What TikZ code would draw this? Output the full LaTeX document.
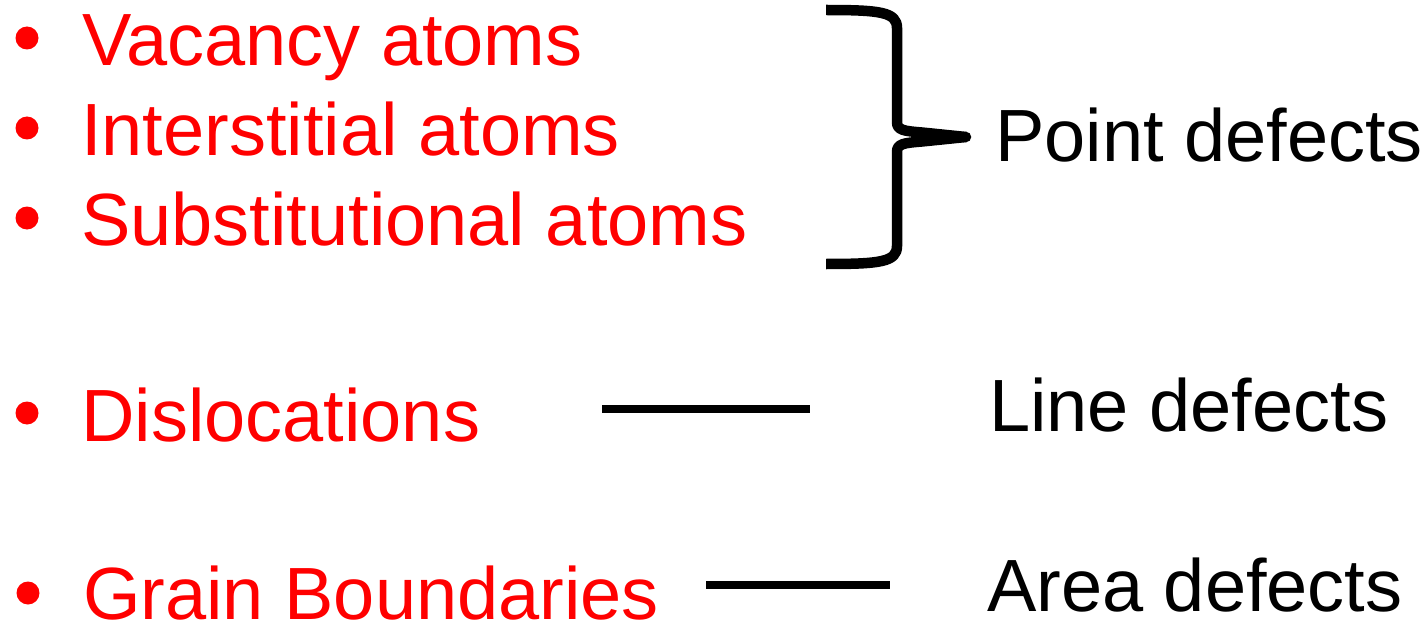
\documentclass[tikz,border=0pt]{standalone}
\usepackage{fontspec}
\setmainfont{Liberation Sans}
\definecolor{itemred}{RGB}{255,0,0}
\begin{document}
\begin{tikzpicture}[x=1pt,y=-1pt,
  item/.style={anchor=base west,inner sep=0pt,text=itemred,font=\fontsize{74}{88}\selectfont},
  kind/.style={anchor=base west,inner sep=0pt,text=black,font=\fontsize{74}{88}\selectfont},
  dot/.style={circle,fill=itemred,draw=none,inner sep=0pt,minimum size=23pt},
  link/.style={line width=8pt,line cap=butt},
  bracestroke/.style={line width=10.5pt,line cap=round,line join=round}]
\useasboundingbox (0,0) rectangle (1425,623);
% bullets
\node[dot] (b1) at (27,38) {};
\node[dot] (b2) at (27,128) {};
\node[dot] (b3) at (27,218) {};
\node[dot] (b4) at (27,413) {};
\node[dot] (b5) at (28,593) {};
% items
\node[item] (vac) at (82,66) {Vacancy atoms};
\node[item] (int) at (81,156) {Interstitial atoms};
\node[item] (sub) at (81,245) {Substitutional atoms};
\node[item] (dis) at (81,441) {Dislocations};
\node[item,text depth=0pt] (gb)  at (83,619) {Grain Boundaries};
% categories
\node[kind] (pd) at (995,161) {Point defects};
\node[kind] (ld) at (989,431) {Line defects};
\node[kind,text depth=0pt] (ad) at (987,611) {Area defects};
% brace
\coordinate (btop) at (826,10);
\coordinate (bbot) at (826,264);
\coordinate (btip) at (966,137);
\draw[bracestroke,line cap=butt] (btop) .. controls (880,10) and (897,12) .. (897,28)
  -- (897,122) .. controls (897,130) and (903,131) .. (922,132.5) -- (btip);
\draw[bracestroke,line cap=butt] (bbot) .. controls (880,264) and (897,262) .. (897,246)
  -- (897,152) .. controls (897,144) and (903,143) .. (922,141.5) -- (btip);
\fill (btip) circle (5.25pt);
% connectors
\coordinate (l1a) at (602,409);
\coordinate (l1b) at (810,409);
\coordinate (l2a) at (706,585);
\coordinate (l2b) at (890,585);
\draw[link] (l1a) -- (l1b);
\draw[link] (l2a) -- (l2b);
\end{tikzpicture}
\end{document}
